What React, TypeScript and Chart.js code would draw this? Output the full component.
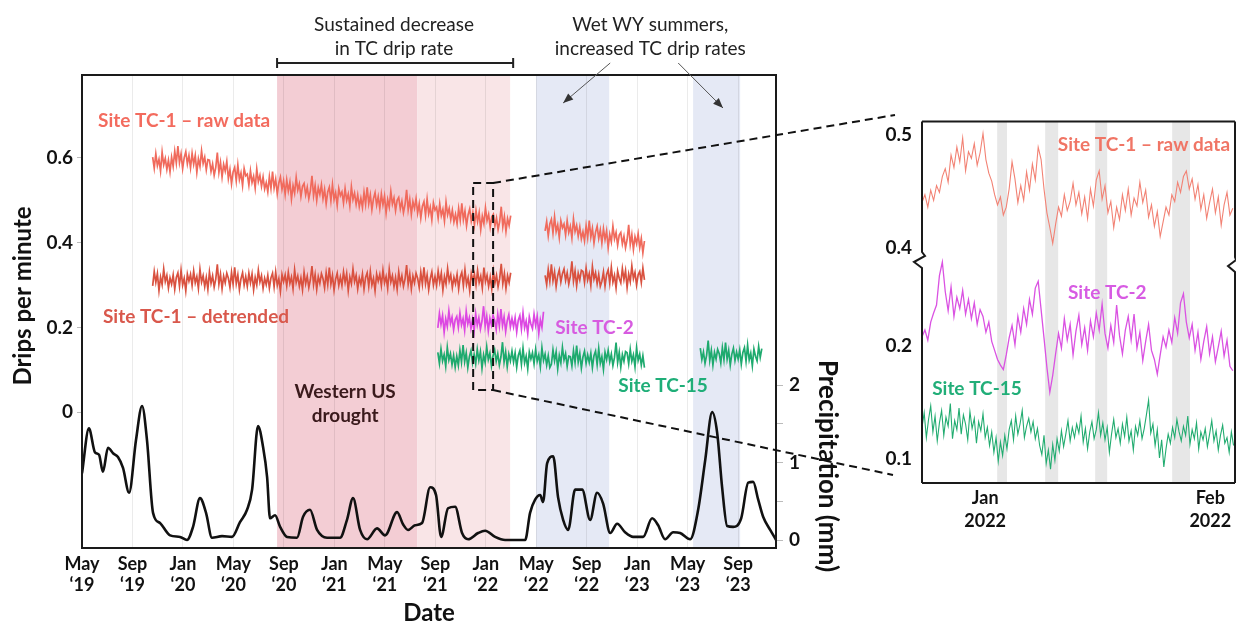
import React, { useEffect, useRef } from 'react';
import { Chart, registerables } from 'chart.js';

Chart.register(...registerables);

const FONT = 'Lato, "Open Sans", sans-serif';
Chart.defaults.font.family = FONT;

// ===== Main chart (x = months since 1 May 2019) =====
const monthNames = ['Jan', 'Feb', 'Mar', 'Apr', 'May', 'Jun', 'Jul', 'Aug', 'Sep', 'Oct', 'Nov', 'Dec'];
const mainTickMonths = [0, 4, 8, 12, 16, 20, 24, 28, 32, 36, 40, 44, 48, 52];
const leftTicks = [0, 0.2, 0.4, 0.6];
const rightTicks = [0, 0.5, 1, 1.5, 2];
const STEP = 0.125;

// Site TC-1 raw (drips/min x1000)
const raw1Start = 5.6;
const raw1 = [
  602, 576, 610, 582, 597, 569, 614, 584, 599, 573, 595, 567,
  602, 580, 616, 588, 628, 589, 610, 575, 601, 615, 586, 606,
  577, 611, 585, 606, 566, 598, 580, 617, 587, 602, 572, 596,
  595, 568, 586, 559, 578, 613, 566, 590, 555, 585, 569, 592,
  551, 573, 539, 567, 578, 546, 584, 549, 565, 535, 575, 558,
  562, 536, 570, 542, 557, 529, 574, 544, 559, 533, 555, 527,
  542, 520, 556, 528, 568, 529, 550, 515, 541, 555, 526, 546,
  514, 548, 522, 543, 503, 535, 517, 554, 524, 539, 509, 533,
  540, 513, 531, 504, 523, 558, 511, 535, 500, 530, 514, 537,
  504, 526, 492, 520, 531, 499, 537, 502, 518, 488, 528, 511,
  520, 494, 528, 500, 515, 487, 532, 502, 517, 491, 513, 485,
  505, 483, 519, 491, 531, 492, 513, 478, 504, 518, 489, 509,
  481, 515, 489, 510, 470, 502, 484, 521, 491, 506, 476, 500,
  507, 480, 498, 471, 490, 525, 478, 502, 467, 497, 481, 504,
  470, 492, 458, 486, 497, 465, 503, 468, 484, 454, 494, 477,
  484, 458, 492, 464, 479, 451, 496, 466, 481, 455, 477, 449,
  467, 445, 481, 453, 493, 454, 475, 440, 466, 480, 451, 471,
  442, 476, 450, 471, 431, 463, 445, 482, 452, 467, 437, 461,
  467, 440, 458, 431, 450, 485, 438, 462, 427, 457, 441, 464,
];
const raw2Start = 36.7;
const raw2 = [
  428, 450, 416, 444, 455, 423, 461, 426, 442, 412, 452, 435,
  444, 418, 452, 424, 439, 411, 456, 426, 441, 415, 437, 409,
  426, 404, 440, 412, 452, 413, 434, 399, 425, 439, 410, 430,
  399, 433, 407, 428, 388, 420, 402, 439, 409, 424, 394, 418,
  424, 397, 415, 388, 407, 442, 395, 419, 384, 414, 398, 421,
  388, 410, 376, 404,
];
// Site TC-1 detrended
const det1 = [
  298, 332, 306, 327, 287, 319, 301, 338, 308, 323, 293, 317,
  302, 324, 290, 318, 329, 297, 335, 300, 316, 286, 326, 309,
  325, 299, 333, 305, 320, 292, 337, 307, 322, 296, 318, 290,
  331, 304, 322, 295, 314, 349, 302, 326, 291, 321, 305, 328,
  316, 294, 330, 302, 342, 303, 324, 289, 315, 329, 300, 320,
  297, 328, 305, 326, 289, 318, 300, 335, 307, 322, 292, 316,
  301, 323, 293, 317, 328, 296, 331, 299, 315, 285, 325, 308,
  324, 298, 330, 304, 319, 291, 336, 306, 321, 297, 317, 289,
  330, 303, 321, 294, 313, 345, 301, 325, 290, 320, 304, 327,
  315, 293, 329, 301, 341, 302, 323, 288, 314, 328, 299, 319,
  299, 331, 306, 327, 287, 319, 303, 338, 308, 323, 291, 317,
  302, 326, 290, 318, 329, 297, 332, 300, 316, 286, 326, 309,
  325, 299, 335, 305, 320, 292, 337, 307, 322, 296, 318, 290,
  331, 304, 322, 297, 314, 347, 302, 326, 291, 321, 305, 328,
  316, 294, 330, 302, 342, 303, 324, 289, 315, 331, 300, 320,
  299, 333, 307, 328, 288, 320, 302, 339, 309, 324, 294, 318,
  303, 325, 291, 319, 330, 298, 336, 301, 317, 287, 327, 310,
  326, 300, 334, 306, 321, 293, 341, 308, 323, 297, 319, 291,
  332, 305, 323, 296, 315, 350, 303, 327, 292, 322, 306, 329,
];
const det2 = [
  323, 301, 337, 309, 349, 310, 331, 296, 322, 336, 307, 327,
  338, 311, 329, 302, 321, 356, 309, 333, 298, 328, 312, 335,
  332, 306, 340, 312, 327, 299, 344, 314, 329, 303, 325, 297,
  309, 331, 297, 325, 336, 304, 342, 307, 323, 293, 333, 316,
  305, 339, 313, 334, 294, 326, 308, 345, 315, 330, 300, 324,
  332, 306, 340, 312,
];
// Site TC-2
const tc2Start = 28.2;
const tc2 = [
  199, 233, 207, 228, 188, 220, 202, 239, 209, 224, 194, 218,
  226, 200, 234, 206, 221, 193, 238, 208, 223, 197, 219, 191,
  232, 205, 223, 196, 215, 250, 203, 227, 192, 222, 206, 229,
  217, 195, 231, 203, 243, 204, 225, 190, 216, 230, 201, 221,
  201, 223, 189, 217, 228, 196, 234, 199, 215, 185, 225, 208,
  197, 231, 205, 226, 186, 218, 200, 237,
];
// Site TC-15
const tc15aStart = 28.2;
const tc15a = [
  141, 115, 149, 121, 136, 108, 153, 123, 138, 112, 134, 106,
  132, 110, 146, 118, 158, 119, 140, 105, 131, 145, 116, 136,
  114, 148, 122, 143, 103, 135, 117, 154, 124, 139, 109, 133,
  147, 120, 138, 111, 130, 165, 118, 142, 107, 137, 121, 144,
  118, 140, 106, 134, 145, 113, 151, 116, 132, 102, 142, 125,
  140, 114, 148, 120, 135, 107, 152, 122, 137, 111, 133, 105,
  113, 147, 121, 142, 102, 134, 116, 153, 123, 138, 108, 132,
  131, 109, 145, 117, 157, 118, 139, 104, 130, 144, 115, 135,
  117, 139, 105, 133, 144, 112, 150, 115, 131, 101, 141, 124,
  146, 119, 137, 110, 129, 164, 117, 141, 106, 136, 120, 143,
  140, 114, 148, 120, 135, 107, 152, 122, 137, 111, 133, 105,
];
const tc15bStart = 49.0;
const tc15b = [
  151, 124, 142, 115, 134, 169, 122, 146, 111, 141, 125, 148,
  138, 116, 152, 124, 164, 125, 146, 111, 137, 151, 122, 142,
  125, 147, 113, 141, 152, 120, 158, 123, 139, 109, 149, 132,
  121, 155, 129, 150,
];

// Precipitation (mm)
const precipMonths = [
  0, 0.55, 1.03, 1.35, 1.66, 2.06, 2.46, 2.85, 3.25, 3.73,
  4.28, 4.76, 5.15, 5.63, 6.18, 6.98, 7.77, 8.32, 8.8, 9.35,
  9.83, 10.3, 11.1, 11.89, 12.52, 13.08, 13.48, 13.95, 14.35, 14.67,
  14.9, 15.3, 15.7, 16.25, 17.04, 17.52, 18.07, 18.63, 19.42, 20.45,
  21.0, 21.48, 22.04, 22.59, 23.38, 24.02, 24.97, 25.45, 25.84, 26.4,
  26.95, 27.59, 28.06, 28.46, 29.01, 29.57, 30.12, 30.6, 31.39, 31.95,
  32.74, 33.53, 35.12, 35.51, 35.91, 36.31, 36.54, 36.86, 37.34, 37.73,
  38.13, 38.53, 39.08, 39.64, 40.27, 40.82, 41.3, 41.86, 42.41, 43.04,
  43.68, 44.47, 45.18, 45.66, 46.21, 46.85, 47.4, 48.2, 48.83, 49.39,
  49.94, 50.34, 50.73, 51.13, 51.6, 52.24, 52.8, 53.19, 53.59, 53.98,
  54.54, 55.01,
];
const precipMm = [
  0.86, 1.44, 1.13, 1.10, 0.88, 1.19, 1.12, 1.07, 0.93, 0.61,
  1.29, 1.73, 1.29, 0.35, 0.22, 0.06, 0.04, 0.0, 0.17, 0.54,
  0.35, 0.03, 0.05, 0.04, 0.23, 0.39, 0.65, 1.47, 1.2, 0.81,
  0.28, 0.32, 0.17, 0.04, 0.03, 0.30, 0.39, 0.13, 0.03, 0.03,
  0.26, 0.54, 0.13, 0.01, 0.15, 0.06, 0.36, 0.20, 0.13, 0.19,
  0.22, 0.68, 0.58, 0.04, 0.41, 0.43, 0.09, 0.01, 0.09, 0.12,
  0.04, 0.0, 0.0, 0.35, 0.52, 0.58, 0.49, 0.99, 1.08, 0.55,
  0.26, 0.13, 0.65, 0.65, 0.26, 0.61, 0.47, 0.09, 0.21, 0.10,
  0.04, 0.04, 0.28, 0.19, 0.01, 0.10, 0.09, 0.01, 0.39, 1.03,
  1.65, 1.38, 0.68, 0.18, 0.17, 0.28, 0.74, 0.75, 0.52, 0.30,
  0.13, 0.0,
];

// shaded periods (months)
const droughtDark = [15.46, 26.56];
const droughtLight = [26.56, 33.93];
const wetBands = [[35.99, 41.78], [48.43, 52.16]];
const bracketSpan = [15.46, 34.17];
const zoomBox = { m0: 31.0, m1: 32.58, v0: 0.052, v1: 0.541 };

// ===== Inset (x = days since 1 Jan 2022) =====
const insetTicks = [0, 31];
const insetTickLabels = [['Jan', '2022'], ['Feb', '2022']];
const insetLeftTicks = [0.1, 0.2, 0.4, 0.5];
const BREAK_OFFSET = 0.1135;
const weekendBands = [[1.65, 3.0], [8.26, 10.05], [15.15, 16.8], [25.75, 28.2]];
const insetStart = -8.7;
const insetStep = 0.4;
const insetRaw = [
  440, 447, 436, 451, 442, 455, 449,
  463, 470, 458,
  482, 471, 489, 476, 497, 468, 485, 479, 492, 473,
  484, 501, 478, 466, 459,
  447, 438, 445, 429, 436,
  452, 476, 461, 440, 455, 442,
  467, 451, 474, 460, 489, 478,
  452, 431, 418, 404, 421,
  436, 428, 447, 433, 441, 457, 438, 449, 430,
  445, 426, 452, 437, 460, 468, 443, 455, 431, 441,
  418, 436, 425, 447, 433, 452, 429, 444, 437,
  458, 440, 451, 427, 438, 419, 432, 410,
  423, 436, 429, 447, 441, 458, 449, 463,
  468, 452, 461, 443, 456, 434,
  447, 426, 440, 452, 431, 445, 420, 438, 449, 429, 435,
];
const insetTc2 = [
  208, 214, 205, 221, 229,
  236, 262, 274,
  248, 231, 252, 226, 243,
  233, 249, 228, 241, 224, 238, 219, 232,
  226, 212, 221, 204,
  196, 188, 183, 179, 192,
  207, 218, 201, 226, 212, 233, 219, 241,
  228, 251, 257,
  232, 207, 181, 159, 174,
  193, 211, 198, 224, 205, 219, 192, 213, 227, 201,
  216, 196, 222, 208, 229, 214, 237,
  211, 198, 218, 203, 236, 209, 193, 214,
  226, 205, 228, 198, 212, 187, 204, 219, 196,
  188, 175, 192, 208, 199,
  214, 203, 225, 211, 238, 246, 221,
  207, 219, 196, 212, 188, 204, 217, 193, 208, 186, 199, 213, 191, 205, 182, 178,
];
const insetTc15Step = 0.3;
const insetTc15 = [
  128, 141, 119, 135, 147, 124, 138, 116, 132, 143,
  121, 137, 129, 149, 118, 134, 126, 145, 122, 139,
  131, 117, 142, 127, 136, 114, 133, 125, 140, 119,
  128, 112, 124, 106, 119, 98, 115, 103, 121, 109,
  126, 134, 117, 138, 122, 131, 143, 119, 129, 136,
  124, 133, 118, 127, 112, 104, 121, 96, 108, 91,
  113, 99, 118, 107, 125, 111, 122, 134, 116, 128,
  119, 131, 123, 138, 115, 127, 109, 124, 133, 118,
  126, 141, 121, 132, 117, 128, 106, 122, 135, 119,
  127, 114, 131, 120, 137, 116, 125, 108, 129, 121,
  134, 118, 127, 139, 152, 123, 131, 112, 126, 101,
  117, 93, 109, 122, 114, 128, 119, 135, 124, 116,
  129, 121, 138, 113, 126, 118, 132, 109, 124, 117,
  127, 111, 122, 134, 116, 125, 108, 121, 130, 114,
  119, 106, 124, 112,
];

// colours
const C_RAW = '#F06A5C';
const C_DET = '#D9513F';
const C_TC2 = '#DC48E2';
const C_TC15 = '#1EAA6E';

const pts = (start: number, step: number, vals: number[], off = 0) =>
  vals.map((v, i) => ({ x: start + i * step, y: v / 1000 - off }));

const lineDs = (data: any[], color: string, width: number, yAxisID = 'y') => ({
  data,
  borderColor: color,
  borderWidth: width,
  pointRadius: 0,
  fill: false,
  tension: 0,
  yAxisID,
});

const mainDecor = {
  id: 'mainDecor',
  beforeDraw(chart: any) {
    const { ctx, chartArea: a, scales } = chart;
    const px = (m: number) => scales.x.getPixelForValue(m);
    ctx.save();
    ctx.fillStyle = '#ffffff';
    ctx.fillRect(0, 0, chart.width, chart.height);
    const band = (m0: number, m1: number, col: string) => {
      ctx.fillStyle = col;
      ctx.fillRect(px(m0), a.top, px(m1) - px(m0), a.bottom - a.top);
    };
    band(droughtDark[0], droughtDark[1], '#F3CDD4');
    band(droughtLight[0], droughtLight[1], '#F9E5E7');
    wetBands.forEach((b) => band(b[0], b[1], '#E5E9F5'));
    ctx.restore();
  },
  afterDraw(chart: any) {
    const { ctx, chartArea: a, scales } = chart;
    const px = (m: number) => scales.x.getPixelForValue(m);
    const py = (v: number) => scales.y.getPixelForValue(v);
    ctx.save();
    ctx.setLineDash([]);
    ctx.strokeStyle = '#1a1a1a';
    ctx.lineWidth = 2;
    ctx.strokeRect(a.left, a.top, a.right - a.left, a.bottom - a.top);

    const text = (s: string, X: number, Y: number, font: string, color: string, align = 'left') => {
      ctx.font = font;
      ctx.fillStyle = color;
      ctx.textAlign = align;
      ctx.textBaseline = 'middle';
      ctx.fillText(s, X, Y);
    };
    const B19 = `bold 19px ${FONT}`;
    text('Site TC-1 \u2013 raw data', px(1.27), py(0.687), B19, '#F36B5E');
    text('Site TC-1 \u2013 detrended', px(1.66), py(0.224), B19, '#D9584C');
    text('Site TC-2', px(37.5), py(0.2), B19, '#D75BE0');
    text('Site TC-15', px(42.5), py(0.061), B19, '#1FAE78');
    text('Western US', px(20.85), py(0.047), `bold 19px ${FONT}`, '#3A1A1C', 'center');
    text('drought', px(20.85), py(-0.009), `bold 19px ${FONT}`, '#3A1A1C', 'center');

    const N19 = `19px ${FONT}`;
    text('Sustained decrease', px(24.73), 25, N19, '#222', 'center');
    text('in TC drip rate', px(24.73), 49, N19, '#222', 'center');
    text('Wet WY summers,', px(45.03), 25, N19, '#222', 'center');
    text('increased TC drip rates', px(45.03), 49, N19, '#222', 'center');

    // axis titles
    ctx.save();
    ctx.translate(23, 296);
    ctx.rotate(-Math.PI / 2);
    text('Drips per minute', 0, 0, `bold 24px ${FONT}`, '#111', 'center');
    ctx.restore();
    ctx.save();
    ctx.translate(827, 466);
    ctx.rotate(Math.PI / 2);
    text('Precipitation (mm)', 0, 0, `bold 26px ${FONT}`, '#111', 'center');
    ctx.restore();
    text('Date', (a.left + a.right) / 2, 613, `bold 24px ${FONT}`, '#111', 'center');

    // bracket
    ctx.strokeStyle = '#222';
    ctx.lineWidth = 2;
    const bx0 = px(bracketSpan[0]);
    const bx1 = px(bracketSpan[1]);
    ctx.beginPath();
    ctx.moveTo(bx0, 63); ctx.lineTo(bx1, 63);
    ctx.moveTo(bx0, 58); ctx.lineTo(bx0, 68);
    ctx.moveTo(bx1, 58); ctx.lineTo(bx1, 68);
    ctx.stroke();

    // arrows
    const arrow = (x0: number, y0: number, x1: number, y1: number) => {
      ctx.strokeStyle = '#555';
      ctx.fillStyle = '#333';
      ctx.lineWidth = 1;
      ctx.beginPath();
      ctx.moveTo(x0, y0);
      ctx.lineTo(x1, y1);
      ctx.stroke();
      const ang = Math.atan2(y1 - y0, x1 - x0);
      const L = 10, W = 4;
      ctx.beginPath();
      ctx.moveTo(x1, y1);
      ctx.lineTo(x1 - L * Math.cos(ang) + W * Math.sin(ang), y1 - L * Math.sin(ang) - W * Math.cos(ang));
      ctx.lineTo(x1 - L * Math.cos(ang) - W * Math.sin(ang), y1 - L * Math.sin(ang) + W * Math.cos(ang));
      ctx.closePath();
      ctx.fill();
    };
    arrow(px(41.86), 63, px(38.13), 103);
    arrow(px(47.25), 63, px(50.8), 108);

    // zoom box + connector lines
    ctx.strokeStyle = '#111';
    ctx.lineWidth = 2;
    ctx.setLineDash([8, 5]);
    const zx0 = px(zoomBox.m0), zx1 = px(zoomBox.m1);
    const zy0 = py(zoomBox.v1), zy1 = py(zoomBox.v0);
    ctx.strokeRect(zx0, zy0, zx1 - zx0, zy1 - zy0);
    ctx.beginPath();
    ctx.moveTo(zx1, zy0); ctx.lineTo(895, 115);
    ctx.moveTo(zx1, zy1); ctx.lineTo(893, 475);
    ctx.stroke();
    ctx.restore();
  },
};

const insetDecor = {
  id: 'insetDecor',
  beforeDraw(chart: any) {
    const { ctx, chartArea: a, scales } = chart;
    const px = (d: number) => scales.x.getPixelForValue(d);
    ctx.save();
    ctx.fillStyle = '#E7E7E7';
    weekendBands.forEach((b) => ctx.fillRect(px(b[0]), a.top, px(b[1]) - px(b[0]), a.bottom - a.top));
    ctx.restore();
  },
  afterDraw(chart: any) {
    const { ctx, chartArea: a, scales } = chart;
    const px = (d: number) => scales.x.getPixelForValue(d);
    const py = (v: number) => scales.y.getPixelForValue(v);
    ctx.save();
    ctx.strokeStyle = '#1a1a1a';
    ctx.lineWidth = 2;
    const L = a.left, R = a.right, T = a.top, Bm = a.bottom;
    ctx.beginPath();
    ctx.moveTo(L, T); ctx.lineTo(R, T);
    ctx.moveTo(L, Bm); ctx.lineTo(R, Bm);
    ctx.moveTo(L, T); ctx.lineTo(L, 152);
    ctx.lineTo(L + 3, 156); ctx.lineTo(L - 8, 162); ctx.lineTo(L, 168); ctx.lineTo(L, Bm);
    ctx.moveTo(R, T); ctx.lineTo(R, 157);
    ctx.lineTo(R + 1, 160); ctx.lineTo(R - 7, 166); ctx.lineTo(R, 172); ctx.lineTo(R, Bm);
    ctx.stroke();

    const text = (s: string, X: number, Y: number, color: string) => {
      ctx.font = `bold 19px ${FONT}`;
      ctx.fillStyle = color;
      ctx.textAlign = 'left';
      ctx.textBaseline = 'middle';
      ctx.fillText(s, X, Y);
    };
    text('Site TC-1 \u2013 raw data', px(10.0), py(0.491 - BREAK_OFFSET), '#F07565');
    text('Site TC-2', px(11.4), py(0.247), '#D75BE3');
    text('Site TC-15', px(-7.3), py(0.162), '#21AE78');
    ctx.restore();
  },
};

export default function App() {
  const mainRef = useRef<HTMLCanvasElement>(null);
  const insetRef = useRef<HTMLCanvasElement>(null);

  useEffect(() => {
    const tickFont = { size: 18, weight: 'bold' as const, lineHeight: 1.2 };
    const W = 1.7;
    const main = new Chart(mainRef.current as HTMLCanvasElement, {
      type: 'line',
      data: {
        datasets: [
          lineDs(pts(raw1Start, STEP, raw1), C_RAW, W),
          lineDs(pts(raw2Start, STEP, raw2), C_RAW, W),
          lineDs(pts(raw1Start, STEP, det1), C_DET, W),
          lineDs(pts(raw2Start, STEP, det2), C_DET, W),
          lineDs(pts(tc2Start, STEP, tc2), C_TC2, W),
          lineDs(pts(tc15aStart, STEP, tc15a), C_TC15, W),
          lineDs(pts(tc15bStart, STEP, tc15b), C_TC15, W),
          {
            ...lineDs(precipMonths.map((m, i) => ({ x: m, y: precipMm[i] })), '#111', 2.6, 'y2'),
            cubicInterpolationMode: 'monotone',
          },
        ] as any,
      },
      options: {
        animation: false,
        responsive: false,
        devicePixelRatio: 1,
        layout: { padding: { top: 75, right: 400, bottom: 0, left: 0 } },
        plugins: { legend: { display: false }, tooltip: { enabled: false } },
        scales: {
          x: {
            type: 'linear',
            min: 0,
            max: 55,
            afterBuildTicks: (s: any) => { s.ticks = mainTickMonths.map((v) => ({ value: v })); },
            afterFit: (s: any) => { s.height = 78; },
            grid: { color: 'rgba(0,0,0,0.08)', drawTicks: false },
            border: { display: false },
            ticks: {
              autoSkip: false,
              maxRotation: 0,
              padding: 5,
              color: '#111',
              font: tickFont,
              callback: (v: any) => {
                const idx = 4 + Number(v);
                return [monthNames[idx % 12], '\u2018' + (19 + Math.floor(idx / 12))];
              },
            },
          },
          y: {
            position: 'left',
            min: -0.321,
            max: 0.796,
            afterBuildTicks: (s: any) => { s.ticks = leftTicks.map((v) => ({ value: v })); },
            afterFit: (s: any) => { s.width = 82; },
            grid: { drawOnChartArea: false, tickLength: 5, color: '#bbb' },
            border: { display: false },
            ticks: {
              padding: 4,
              color: '#111',
              font: { size: 19, weight: 'bold' },
              callback: (v: any) => (Number(v) === 0 ? '0' : Number(v).toFixed(1)),
            },
          },
          y2: {
            position: 'right',
            min: -0.103,
            max: 6.0,
            afterBuildTicks: (s: any) => { s.ticks = rightTicks.map((v) => ({ value: v })); },
            afterFit: (s: any) => { s.width = 60; },
            grid: { drawOnChartArea: false, tickLength: 7, color: '#bbb' },
            border: { display: false },
            ticks: {
              padding: 6,
              color: '#111',
              font: { size: 19, weight: 'bold' },
              callback: (v: any) => (Number.isInteger(Number(v)) ? String(v) : ''),
            },
          },
        },
      } as any,
      plugins: [mainDecor],
    });

    const inset = new Chart(insetRef.current as HTMLCanvasElement, {
      type: 'line',
      data: {
        datasets: [
          lineDs(pts(insetStart, insetStep, insetRaw, BREAK_OFFSET), '#F28274', 1.1),
          lineDs(pts(insetStart, insetStep, insetTc2), '#DA52E2', 1.3),
          lineDs(pts(insetStart, insetTc15Step, insetTc15), '#22AC70', 1.1),
        ] as any,
      },
      options: {
        animation: false,
        responsive: false,
        devicePixelRatio: 1,
        layout: { padding: { top: 19, right: 1, bottom: 0, left: 0 } },
        plugins: { legend: { display: false }, tooltip: { enabled: false } },
        scales: {
          x: {
            type: 'linear',
            min: -8.7,
            max: 34.4,
            afterBuildTicks: (s: any) => { s.ticks = insetTicks.map((v) => ({ value: v })); },
            afterFit: (s: any) => { s.height = 77; },
            grid: { display: false, drawTicks: false },
            border: { display: false },
            ticks: {
              autoSkip: false,
              maxRotation: 0,
              padding: 3,
              color: '#111',
              font: { size: 18, weight: 'bold', lineHeight: 1.3 },
              callback: (v: any, i: number) => insetTickLabels[i],
            },
          },
          y: {
            min: 0.0789,
            max: 0.3982,
            afterBuildTicks: (s: any) => {
              s.ticks = insetLeftTicks.map((v) => ({ value: v > 0.3 ? v - BREAK_OFFSET : v }));
            },
            afterFit: (s: any) => { s.width = 72; },
            grid: { drawOnChartArea: false, drawTicks: false },
            border: { display: false },
            ticks: {
              padding: 10,
              color: '#111',
              font: { size: 19, weight: 'bold' },
              callback: (v: any, i: number) => insetLeftTicks[i].toFixed(1),
            },
          },
        },
      } as any,
      plugins: [insetDecor],
    });

    return () => {
      main.destroy();
      inset.destroy();
    };
  }, []);

  return (
    <div style={{ position: 'fixed', left: 0, top: 0, width: 1236, height: 626, background: '#fff' }}>
      <canvas ref={mainRef} width={1236} height={626} style={{ position: 'absolute', left: 0, top: 0 }} />
      <canvas ref={insetRef} width={386} height={460} style={{ position: 'absolute', left: 850, top: 100 }} />
    </div>
  );
}
